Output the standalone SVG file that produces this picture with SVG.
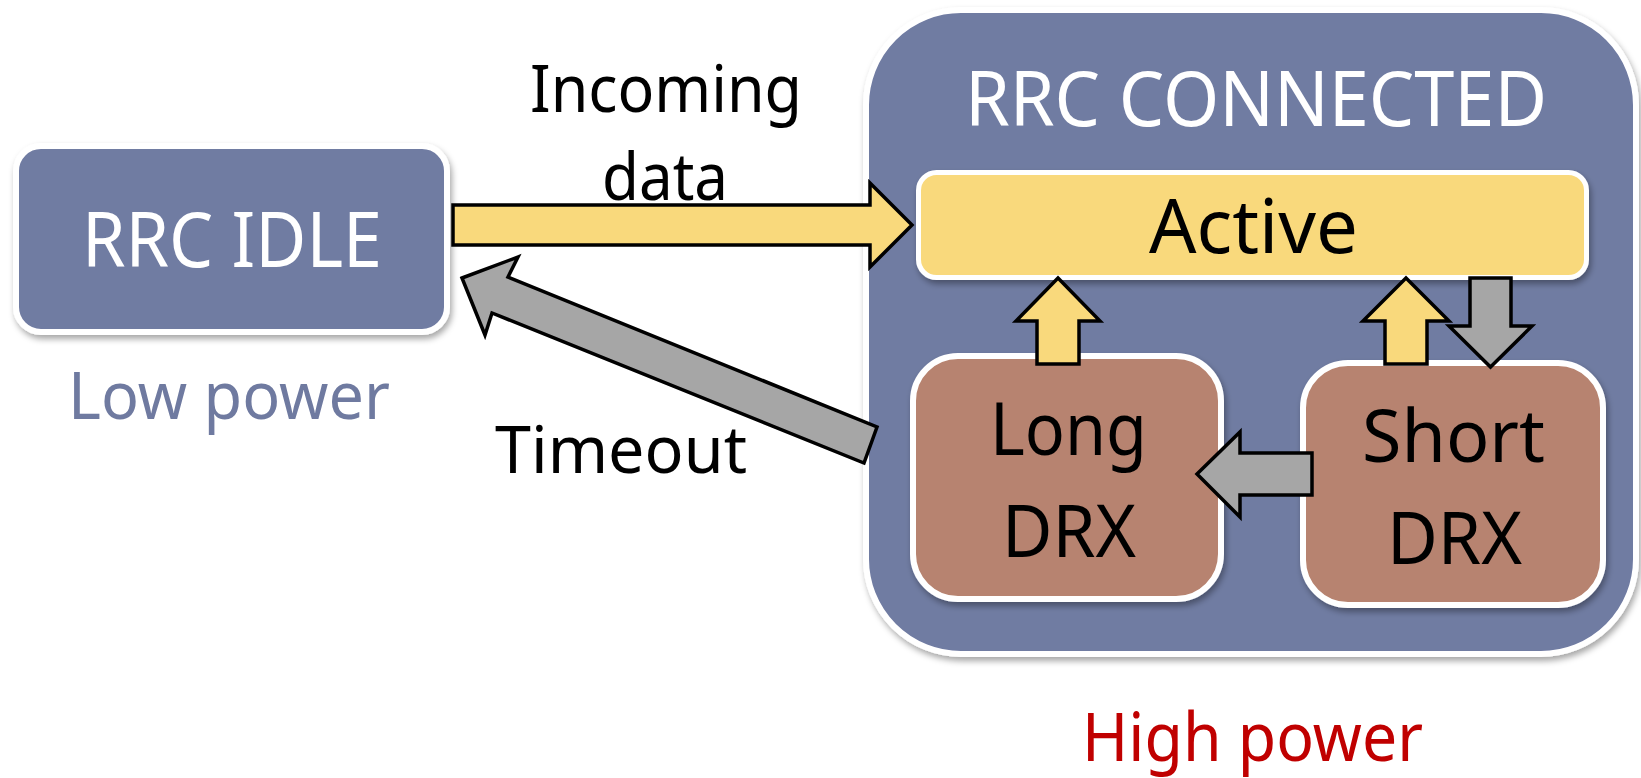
<svg xmlns="http://www.w3.org/2000/svg" width="1641" height="778" viewBox="0 0 1641 778">
<style>
text{font-family:"Noto Sans","Open Sans",sans-serif;text-anchor:middle}
.state{fill:#707BA2;stroke:#fff;stroke-width:6}
.active{fill:#F9D97C;stroke:#fff;stroke-width:5}
.drx{fill:#B7836F;stroke:#fff;stroke-width:6}
.white{fill:#fff}
.black{fill:#000}
.arr{stroke:#000;stroke-width:3.5;stroke-linejoin:miter}
.y{fill:#F9D97C}
.g{fill:#A6A6A6}
</style>
<defs>
<filter id="sh" x="-10%" y="-10%" width="120%" height="125%">
<feDropShadow dx="2" dy="4" stdDeviation="3" flood-color="#000" flood-opacity="0.35"/>
</filter>
</defs>
<rect width="1641" height="778" fill="#fff"/>
<g id="rrc-idle">
<rect class="state" x="16" y="146" width="431" height="186" rx="25" filter="url(#sh)"/>
<text class="white" x="232" y="267" font-size="77" textLength="300" lengthAdjust="spacingAndGlyphs">RRC IDLE</text>
</g>
<g id="low-power">
<text x="229" y="419" font-size="66" fill="#6F7AA0" textLength="322" lengthAdjust="spacingAndGlyphs">Low power</text>
</g>
<g id="rrc-connected">
<rect class="state" x="866" y="10" width="770" height="644" rx="95" filter="url(#sh)"/>
<text class="white" x="1256" y="126" font-size="76" textLength="582" lengthAdjust="spacingAndGlyphs">RRC CONNECTED</text>
</g>
<g id="active">
<rect class="active" x="918.5" y="172.5" width="668" height="105" rx="18" filter="url(#sh)"/>
<text class="black" x="1253.5" y="253" font-size="74" textLength="209" lengthAdjust="spacingAndGlyphs">Active</text>
</g>
<g id="long-drx">
<rect class="drx" x="913" y="356" width="308" height="243" rx="45" filter="url(#sh)"/>
<text class="black" x="1068.5" y="455" font-size="73" textLength="157" lengthAdjust="spacingAndGlyphs">Long</text>
<text class="black" x="1069" y="557" font-size="73" textLength="134" lengthAdjust="spacingAndGlyphs">DRX</text>
</g>
<g id="short-drx">
<rect class="drx" x="1303" y="363" width="300" height="242" rx="45" filter="url(#sh)"/>
<text class="black" x="1453.5" y="462" font-size="73" textLength="183" lengthAdjust="spacingAndGlyphs">Short</text>
<text class="black" x="1454.5" y="564" font-size="73" textLength="135" lengthAdjust="spacingAndGlyphs">DRX</text>
</g>
<g id="high-power">
<text x="1252.5" y="761" font-size="67" fill="#C00000" textLength="341" lengthAdjust="spacingAndGlyphs">High power</text>
</g>
<g id="connectors">
<polygon class="arr y" points="453,205 870,205 870,183 912,225 870,267 870,245 453,245"/>
<text class="black" x="666" y="112" font-size="66" textLength="272" lengthAdjust="spacingAndGlyphs">Incoming</text>
<text class="black" x="665" y="200" font-size="66" textLength="126" lengthAdjust="spacingAndGlyphs">data</text>
<polygon class="arr g" points="462,278 518,257 508,277 877,427 864,463 492,313 485,335"/>
<text class="black" x="621" y="473" font-size="66" textLength="252" lengthAdjust="spacingAndGlyphs">Timeout</text>
<polygon class="arr y" points="1058,278 1100,321 1079,321 1079,364 1037,364 1037,321 1016,321"/>
<polygon class="arr y" points="1406,278 1449,321 1427,321 1427,364 1385,364 1385,321 1363,321"/>
<polygon class="arr g" points="1470,278 1511,278 1511,326 1532,326 1490.5,367 1449,326 1470,326"/>
<polygon class="arr g" points="1197,474 1240,432 1240,453 1312,453 1312,495 1240,495 1240,517"/>
</g>
</svg>
